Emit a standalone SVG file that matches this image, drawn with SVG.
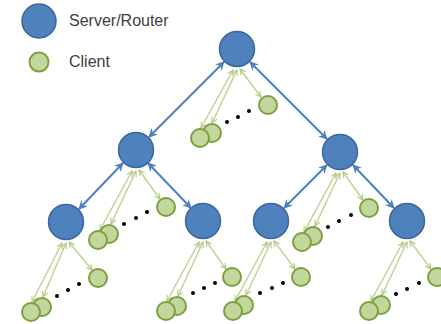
<svg xmlns="http://www.w3.org/2000/svg" width="441" height="324" viewBox="0 0 441 324">
<style>
.srv{fill:#4f81bd;stroke:#3a679f;stroke-width:1.5}
.cli{fill:#c3d69b;stroke:#7ba040;stroke-width:2}
.blue{stroke:#4f81bd;stroke-width:2;fill:none;marker-start:url(#ba);marker-end:url(#ba)}
.grn{stroke:#bcd290;stroke-width:1.4;fill:none;marker-start:url(#ga);marker-end:url(#ga)}
.dot{fill:#000}
.lbl{font-family:"Liberation Sans",Arial,sans-serif;font-size:16px;fill:#404040}
</style>
<defs>
<marker id="ba" viewBox="0 0 10 10" refX="9" refY="5" markerWidth="9" markerHeight="9" markerUnits="userSpaceOnUse" orient="auto-start-reverse">
<path d="M0,0 L10,5 L0,10 L3,5 Z" fill="#4f81bd"/>
</marker>
<marker id="ga" viewBox="0 0 10 10" refX="9" refY="5" markerWidth="7" markerHeight="7" markerUnits="userSpaceOnUse" orient="auto-start-reverse">
<path d="M1,1 L9,5 L1,9" fill="none" stroke="#aec77c" stroke-width="1.5"/>
</marker>
</defs>
<g id="legend">
<circle class="srv" cx="39" cy="21" r="17"/>
<text class="lbl" x="69" y="26">Server/Router</text>
<circle class="cli" cx="39" cy="62" r="9.5"/>
<text class="lbl" x="69" y="67">Client</text>
</g>
<g id="connectors">
<line class="blue" x1="224" y1="62" x2="149" y2="137"/>
<line class="blue" x1="250" y1="62" x2="327" y2="139"/>
<line class="blue" x1="123" y1="163" x2="79" y2="209"/>
<line class="blue" x1="148" y1="163" x2="191" y2="208"/>
<line class="blue" x1="327" y1="165" x2="284" y2="208"/>
<line class="blue" x1="353" y1="165" x2="394" y2="208"/>
<g id="client-links">
<line class="grn" x1="233" y1="70" x2="201" y2="128"/>
<line class="grn" x1="237" y1="70" x2="212" y2="123"/>
<line class="grn" x1="240" y1="69" x2="261" y2="97"/>
<line class="grn" x1="132" y1="171" x2="100" y2="230"/>
<line class="grn" x1="136" y1="171" x2="111" y2="224"/>
<line class="grn" x1="139" y1="170" x2="160" y2="199"/>
<line class="grn" x1="336" y1="173" x2="304" y2="232"/>
<line class="grn" x1="340" y1="173" x2="315" y2="226"/>
<line class="grn" x1="343" y1="172" x2="363" y2="200"/>
<line class="grn" x1="62" y1="243" x2="32" y2="302"/>
<line class="grn" x1="66" y1="243" x2="43" y2="297"/>
<line class="grn" x1="69" y1="242" x2="92" y2="270"/>
<line class="grn" x1="199" y1="242" x2="167" y2="301"/>
<line class="grn" x1="203" y1="242" x2="178" y2="296"/>
<line class="grn" x1="206" y1="241" x2="226" y2="269"/>
<line class="grn" x1="267" y1="242" x2="235" y2="301"/>
<line class="grn" x1="271" y1="242" x2="246" y2="295"/>
<line class="grn" x1="274" y1="241" x2="295" y2="269"/>
<line class="grn" x1="403" y1="242" x2="371" y2="301"/>
<line class="grn" x1="407" y1="242" x2="382" y2="295"/>
<line class="grn" x1="410" y1="241" x2="431" y2="269"/>
</g>
</g>
<g id="server-top"><circle class="srv" cx="237" cy="49" r="17.5"/></g>
<g id="server-mid-left"><circle class="srv" cx="136" cy="150" r="17.5"/></g>
<g id="server-mid-right"><circle class="srv" cx="340" cy="152" r="17.5"/></g>
<g id="server-b1"><circle class="srv" cx="66" cy="222" r="17.5"/></g>
<g id="server-b2"><circle class="srv" cx="203" cy="221" r="17.5"/></g>
<g id="server-b3"><circle class="srv" cx="271" cy="221" r="17.5"/></g>
<g id="server-b4"><circle class="srv" cx="407" cy="221" r="17.5"/></g>
<g id="clients-top">
<circle class="cli" cx="212" cy="133" r="9"/><circle class="cli" cx="200" cy="138" r="9"/><circle class="cli" cx="268" cy="105" r="9"/>
<circle class="dot" cx="227" cy="122" r="2"/><circle class="dot" cx="238" cy="117" r="2"/><circle class="dot" cx="249" cy="111" r="2"/>
</g>
<g id="clients-mid-left">
<circle class="cli" cx="109" cy="234" r="9"/><circle class="cli" cx="98" cy="240" r="9"/><circle class="cli" cx="166" cy="207" r="9"/>
<circle class="dot" cx="124" cy="224" r="2"/><circle class="dot" cx="136" cy="218" r="2"/><circle class="dot" cx="147" cy="212" r="2"/>
</g>
<g id="clients-mid-right">
<circle class="cli" cx="313" cy="236" r="9"/><circle class="cli" cx="302" cy="242" r="9"/><circle class="cli" cx="369" cy="208" r="9"/>
<circle class="dot" cx="328" cy="227" r="2"/><circle class="dot" cx="339" cy="221" r="2"/><circle class="dot" cx="351" cy="215" r="2"/>
</g>
<g id="clients-b1">
<circle class="cli" cx="42" cy="307" r="9"/><circle class="cli" cx="31" cy="312" r="9"/><circle class="cli" cx="98" cy="278" r="9"/>
<circle class="dot" cx="57" cy="296" r="2"/><circle class="dot" cx="68" cy="290" r="2"/><circle class="dot" cx="79" cy="284" r="2"/>
</g>
<g id="clients-b2">
<circle class="cli" cx="177" cy="306" r="9"/><circle class="cli" cx="166" cy="311" r="9"/><circle class="cli" cx="232" cy="277" r="9"/>
<circle class="dot" cx="193" cy="293" r="2"/><circle class="dot" cx="204" cy="288" r="2"/><circle class="dot" cx="215" cy="283" r="2"/>
</g>
<g id="clients-b3">
<circle class="cli" cx="244" cy="305" r="9"/><circle class="cli" cx="233" cy="311" r="9"/><circle class="cli" cx="301" cy="277" r="9"/>
<circle class="dot" cx="260" cy="293" r="2"/><circle class="dot" cx="272" cy="288" r="2"/><circle class="dot" cx="283" cy="283" r="2"/>
</g>
<g id="clients-b4">
<circle class="cli" cx="381" cy="305" r="9"/><circle class="cli" cx="369" cy="311" r="9"/><circle class="cli" cx="437" cy="277" r="9"/>
<circle class="dot" cx="396" cy="294" r="2"/><circle class="dot" cx="407" cy="289" r="2"/><circle class="dot" cx="419" cy="283" r="2"/>
</g>
</svg>
